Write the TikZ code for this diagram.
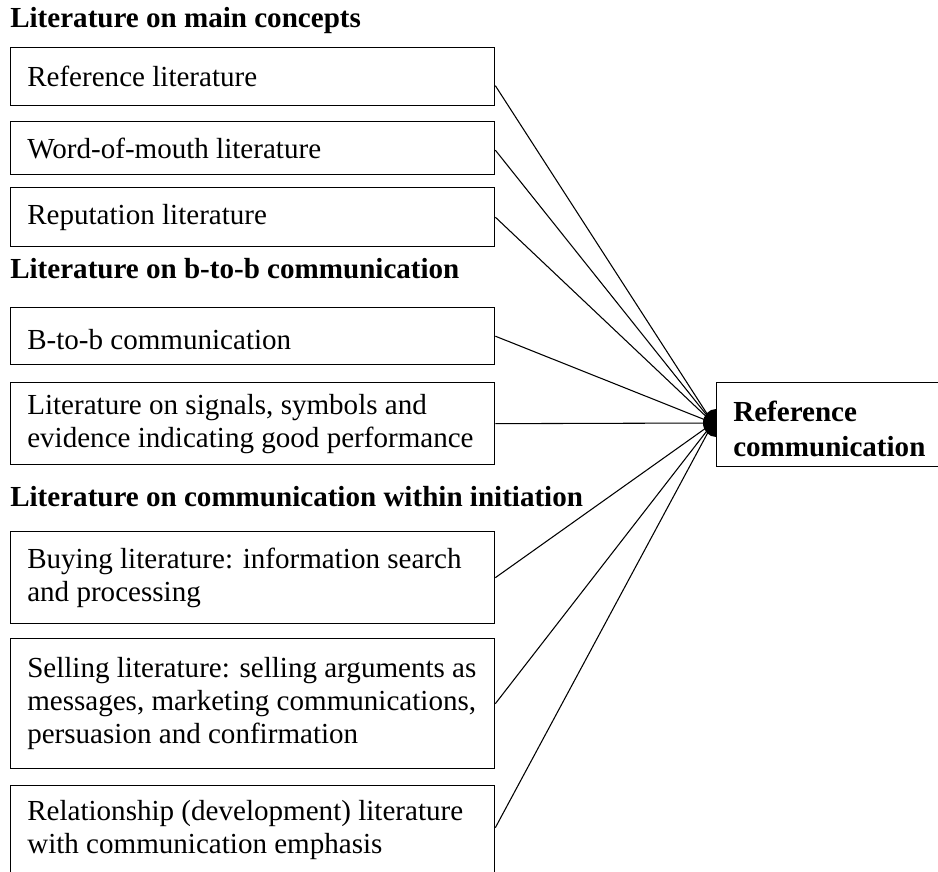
\documentclass[tikz,border=0pt]{standalone}
\usepackage{fontspec}
\setmainfont{Liberation Serif}
\begin{document}
\begin{tikzpicture}[x=0.75pt,y=-0.75pt,
  box/.style={draw, line width=1pt, minimum width=484*0.75pt, inner sep=0pt, anchor=north west},
  txt/.style={anchor=west, align=left, inner sep=0pt, font=\fontsize{21.8}{24.75}\selectfont},
  head/.style={anchor=base west, inner sep=0pt, font=\fontsize{21.8}{24.75}\selectfont\bfseries},
  link/.style={line width=0.8pt}]
\useasboundingbox (0,0) rectangle (938,871);

% section headings
\node[head] (h1) at (10,27)  {Literature on main concepts};
\node[head] (h2) at (10,278) {Literature on b-to-b communication};
\node[head] (h3) at (10,506) {Literature on communication within initiation};

% literature boxes
\node[box, minimum height=58*0.75pt]  (b1) at (10,47)  {};
\node[box, minimum height=53*0.75pt]  (b2) at (10,121) {};
\node[box, minimum height=59*0.75pt]  (b3) at (10,187) {};
\node[box, minimum height=57*0.75pt]  (b4) at (10,307) {};
\node[box, minimum height=82*0.75pt]  (b5) at (10,382) {};
\node[box, minimum height=92*0.75pt]  (b6) at (10,531) {};
\node[box, minimum height=130*0.75pt] (b7) at (10,638) {};
\node[box, minimum height=88*0.75pt]  (b8) at (10,785) {};

\node[txt] (t1) at ([xshift=17*0.75pt]b1.west) {Reference literature};
\node[txt] (t2) at ([xshift=17*0.75pt]b2.west) {Word-of-mouth literature};
\node[txt] (t3) at ([xshift=17*0.75pt]b3.west) {Reputation literature};
\node[txt] (t4) at ([xshift=17*0.75pt,yshift=-3*0.75pt]b4.west) {B-to-b communication};
\node[txt] (t5) at ([xshift=17*0.75pt]b5.west) {Literature on signals, symbols and\\evidence indicating good performance};
\node[txt] (t6) at ([xshift=17*0.75pt]b6.west) {Buying literature: information search\\and processing};
\node[txt] (t7) at ([xshift=17*0.75pt]b7.west) {Selling literature: selling arguments as\\messages, marketing communications,\\persuasion and confirmation};
\node[txt] (t8) at ([xshift=17*0.75pt]b8.west) {Relationship (development) literature\\with communication emphasis};

% target concept
\node[box, minimum width=230*0.75pt, minimum height=84*0.75pt] (rb) at (716,382) {};
\node[txt, font=\fontsize{21.8}{26}\selectfont\bfseries] (rt) at ([xshift=17*0.75pt,yshift=-4*0.75pt]rb.west) {Reference\\communication};

\coordinate (hub) at (713,423);

% converging connectors
\draw[link] ([yshift=-9*0.75pt]b1.east) -- (hub);
\draw[link] ([yshift=-2*0.75pt]b2.east) -- (hub);
\draw[link] (b3.east) -- (hub);
\draw[link] (b4.east) -- (hub);
\draw[link] (b5.east) -- (hub);
\draw[link] (b6.east) -- (hub);
\draw[link] (b7.east) -- (hub);
\draw[link] ([yshift=2*0.75pt]b8.east) -- (hub);

% junction dot on the target box
\fill (716,409) arc[start angle=90, end angle=270, x radius=9.75pt, y radius=10.5pt] -- cycle;
\end{tikzpicture}
\end{document}
